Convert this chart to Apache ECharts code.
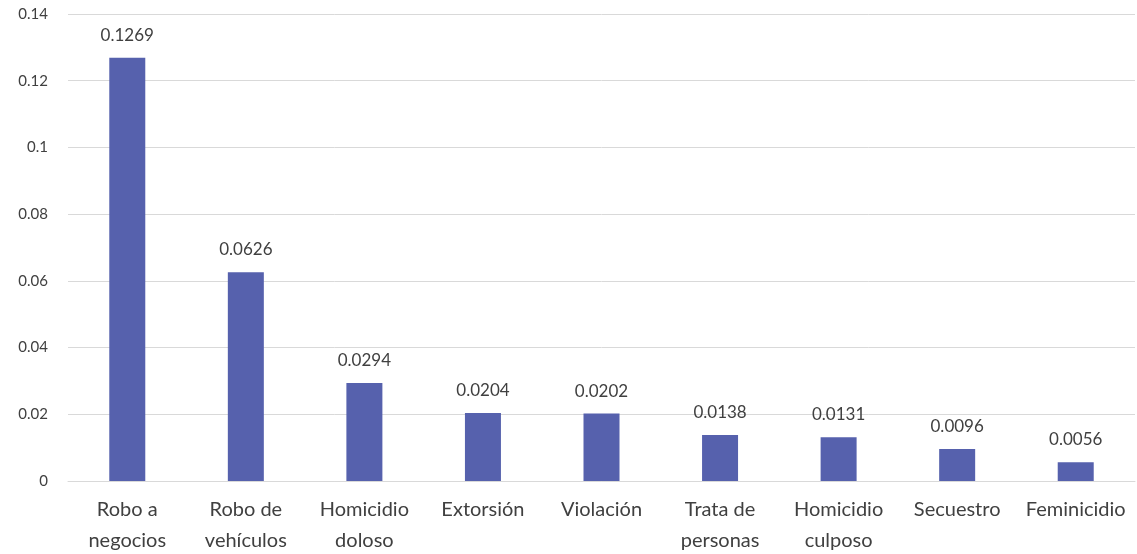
<!DOCTYPE html>
<html>
<head>
<meta charset="utf-8">
<script src="https://cdn.jsdelivr.net/npm/echarts@6/dist/echarts.min.js"></script>
<style>
  html, body { margin: 0; padding: 0; background: #fff; }
  #chart { width: 1137px; height: 554px; }
</style>
</head>
<body>
<div id="chart"></div>
<script>
const categories = [
  'Robo a\nnegocios', 'Robo de\nvehículos', 'Homicidio\ndoloso', 'Extorsión', 'Violación',
  'Trata de\npersonas', 'Homicidio\nculposo', 'Secuestro', 'Feminicidio'
]
const values = [0.1269, 0.0626, 0.0294, 0.0204, 0.0202, 0.0138, 0.0131, 0.0096, 0.0056]
const labels = ['0.1269', '0.0626', '0.0294', '0.0204', '0.0202', '0.0138', '0.0131', '0.0096', '0.0056']

const font = 'Lato, "Open Sans", sans-serif'
let myChart = echarts.init(document.getElementById('chart'))
myChart.setOption({
  animation: false,
  textStyle: { fontFamily: font },
  grid: { left: 68, right: 2, top: 14, bottom: 73, outerBoundsMode: 'none', containLabel: false },
  xAxis: {
    type: 'category',
    data: categories,
    axisLine: { lineStyle: { color: '#d9d9d9', width: 1 } },
    axisTick: { show: false },
    axisLabel: { color: '#404040', fontSize: 20, lineHeight: 31, margin: 13, fontFamily: font, interval: 0 }
  },
  yAxis: {
    type: 'value',
    min: 0,
    max: 0.14,
    interval: 0.02,
    axisLine: { show: false },
    axisTick: { show: false },
    splitLine: { lineStyle: { color: '#d9d9d9', width: 1 } },
    axisLabel: {
      color: '#404040', fontSize: 15, margin: 20, fontFamily: font,
      formatter: v => v === 0 ? '0' : String(+v.toFixed(2))
    }
  },
  series: [{
    type: 'bar',
    data: values,
    barWidth: 36,
    itemStyle: { color: '#5661ad' },
    label: {
      show: true,
      position: 'top',
      distance: 14,
      color: '#404040',
      fontSize: 17,
      fontFamily: font,
      formatter: p => labels[p.dataIndex]
    }
  }]
})
</script>
</body>
</html>
